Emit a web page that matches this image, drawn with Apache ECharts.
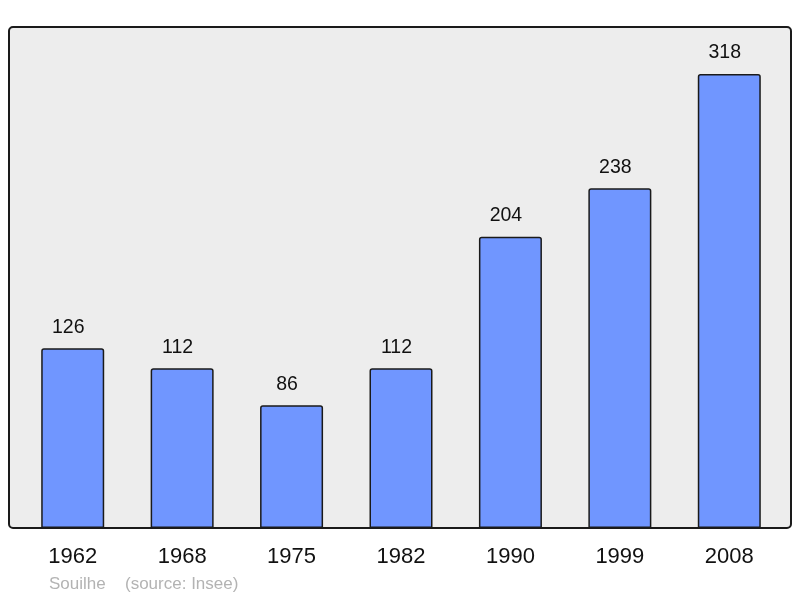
<!DOCTYPE html>
<html>
<head>
<meta charset="utf-8">
<script src="https://cdn.jsdelivr.net/npm/echarts@6/dist/echarts.min.js"></script>
<style>
    html, body { margin: 0; padding: 0; background: #fff; }
    #chart { width: 800px; height: 598px; }
</style>
</head>
<body>
<div id="chart"></div>
<script>
// années du recensement
const years = ['1962', '1968', '1975', '1982', '1990', '1999', '2008'];
// population
const population = [126, 112, 86, 112, 204, 238, 318];

const fontFamily = '"Liberation Sans", Arial, sans-serif';

const myChart = echarts.init(document.getElementById('chart'));
const option = {
    animation: false,
    backgroundColor: '#ffffff',
    grid: {
        left: 18,
        right: 16,
        top: 27,
        bottom: 70
    },
    graphic: [
        {
            // cadre gris du graphique
            type: 'rect',
            z: -10,
            shape: { x: 9, y: 27, width: 782, height: 501, r: 4 },
            style: { fill: '#ededed', stroke: '#1a1a1a', lineWidth: 2 }
        },
        {
            type: 'text',
            left: 49,
            top: 576,
            style: { text: 'Souilhe', fill: '#b3b3b3', fontSize: 17, fontFamily: fontFamily }
        },
        {
            type: 'text',
            left: 125,
            top: 576,
            style: { text: '(source: Insee)', fill: '#b3b3b3', fontSize: 17, fontFamily: fontFamily }
        }
    ],
    xAxis: {
        type: 'category',
        data: years,
        axisLine: { show: false },
        axisTick: { show: false },
        axisLabel: {
            color: '#111',
            fontSize: 22,
            margin: 18,
            fontFamily: fontFamily
        }
    },
    yAxis: {
        type: 'value',
        min: 0,
        max: 351,
        show: false,
        splitLine: { show: false }
    },
    series: [
        {
            type: 'bar',
            data: population,
            barWidth: 63,
            itemStyle: {
                color: '#7096ff',
                borderColor: '#1a1a1a',
                borderWidth: 1.5,
                borderRadius: [2, 2, 0, 0]
            },
            label: {
                show: true,
                position: 'top',
                distance: 11,
                offset: [-4.5, 0],
                color: '#111',
                fontSize: 19.5,
                fontFamily: fontFamily
            }
        }
    ]
};
myChart.setOption(option);
</script>
</body>
</html>
